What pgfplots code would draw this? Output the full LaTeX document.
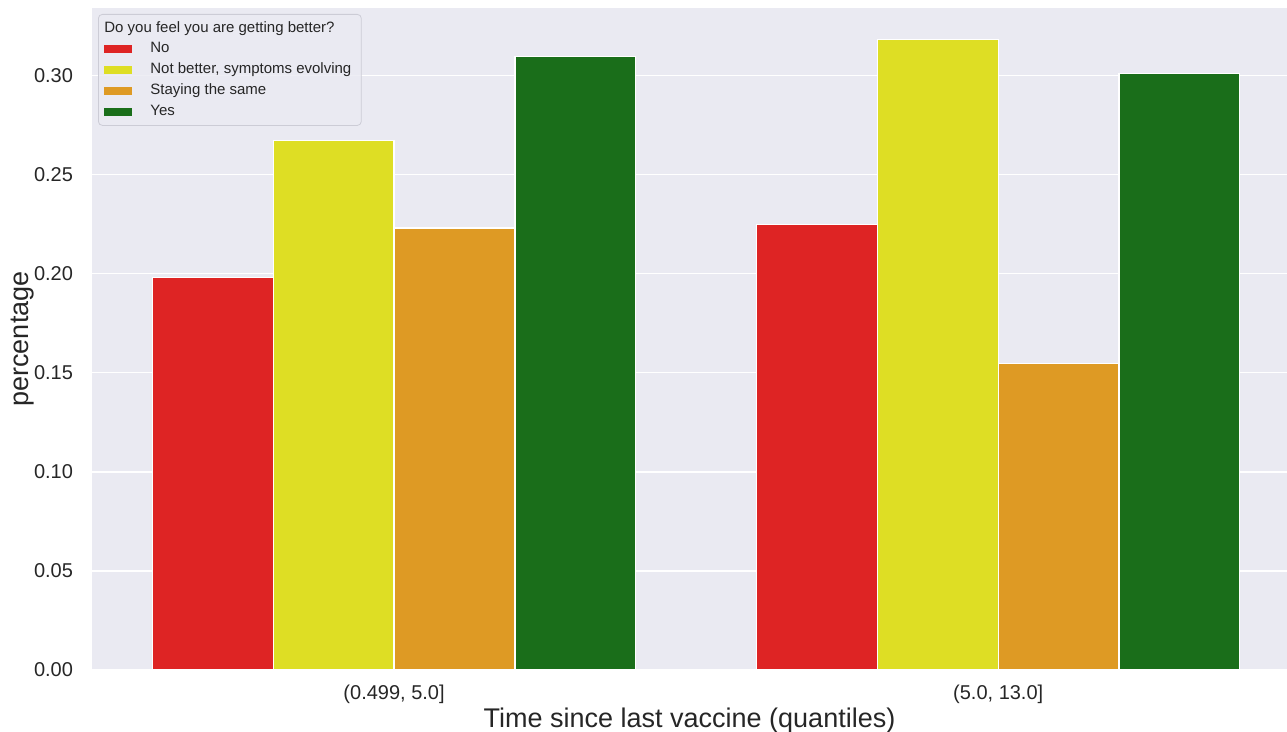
\documentclass[border=0pt]{standalone}
\usepackage{fontspec}
\setmainfont{Liberation Sans}
\usepackage{pgfplots}
\usepackage{pgfplotstable}
\pgfplotsset{compat=1.18}
\definecolor{bgc}{RGB}{234,234,242}
\definecolor{cNo}{RGB}{222,36,36}
\definecolor{cNB}{RGB}{222,222,36}
\definecolor{cSame}{RGB}{222,154,36}
\definecolor{cYes}{RGB}{26,110,26}
\definecolor{txt}{RGB}{38,38,38}
\pgfplotstableread{
x No Notbetter Same Yes
0 0.198 0.267 0.223 0.3095
1 0.2248 0.318 0.1547 0.301
}\data
\begin{document}
\begin{tikzpicture}
\useasboundingbox (0,0) rectangle (643.5pt,366pt);
\begin{axis}[
  at={(46pt,31pt)}, anchor=south west,
  scale only axis,
  width=597.5pt, height=331pt,
  xmin=-0.5, xmax=1.478,
  ymin=0, ymax=0.334,
  axis background/.style={fill=bgc},
  axis line style={draw=none},
  major tick length=0pt,
  xtick={0,1},
  xticklabels={{(0.499, 5.0]},{(5.0, 13.0]}},
  ytick={0,0.05,0.10,0.15,0.20,0.25,0.30},
  yticklabel style={/pgf/number format/fixed,/pgf/number format/fixed zerofill,/pgf/number format/precision=2},
  /pgf/number format/assume math mode=true,
  ticklabel style={font=\fontsize{10}{12}\selectfont, text=txt},
  yticklabel style={xshift=-6pt},
  xticklabel style={yshift=-4pt},
  ymajorgrids,
  grid style={draw=white, line width=0.8pt},
  axis on top=false,
  xlabel={Time since last vaccine (quantiles)},
  ylabel={percentage},
  label style={font=\fontsize{13.5}{16}\selectfont, text=txt},
  xlabel style={at={([yshift=-25.5pt]axis description cs:0.5,0)}, anchor=center},
  ylabel style={at={([xshift=-34.5pt]axis description cs:0,0.5)}, anchor=center},
  ybar, bar width=0.2,
  every axis plot/.append style={draw=white, line width=0.6pt},
  legend cell align=left,
  legend image code/.code={\fill[#1,draw=none,sharp corners,fill opacity=1] (0pt,-2pt) rectangle (14pt,2pt);},
  legend style={at={(axis description cs:0,1)}, anchor=north west, xshift=3pt, yshift=-3pt,
    fill=bgc, fill opacity=0.8, text opacity=1, draw={rgb,255:red,204;green,204;blue,214}, rounded corners=2pt,
    font=\fontsize{7.5}{9}\selectfont, text=txt, row sep=-0.4pt, inner xsep=3pt, inner ysep=1.5pt,
    /tikz/every odd column/.append style={column sep=7pt}},
]
\addlegendimage{empty legend}
\addlegendentry{\hspace*{-23pt}Do you feel you are getting better?}
\addplot[fill=cNo, bar shift=-0.3] table[x=x,y=No]{\data};
\addlegendentry{No}
\addplot[fill=cNB, bar shift=-0.1] table[x=x,y=Notbetter]{\data};
\addlegendentry{Not better, symptoms evolving}
\addplot[fill=cSame, bar shift=0.1] table[x=x,y=Same]{\data};
\addlegendentry{Staying the same}
\addplot[fill=cYes, bar shift=0.3] table[x=x,y=Yes]{\data};
\addlegendentry{Yes}
\end{axis}
\end{tikzpicture}
\end{document}
